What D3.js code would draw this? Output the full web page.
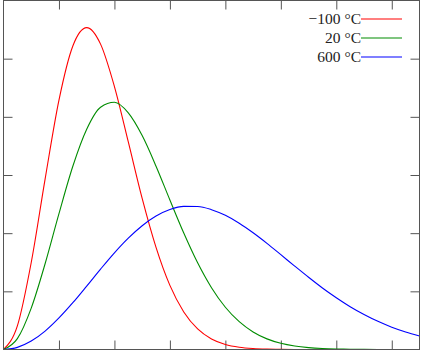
<!DOCTYPE html>
<html>
<head>
<meta charset="utf-8">
<script src="https://cdn.jsdelivr.net/npm/d3@7"></script>
<style>
  html, body { margin: 0; padding: 0; background: #fff; }
  svg { display: block; }
</style>
</head>
<body>
<svg id="chart" width="421" height="351"></svg>
<script>
// speed (m/s) sampled every 50
const speeds = d3.range(0, 1501, 50);
const labels = ["\u2212100 \u00b0C", "20 \u00b0C", "600 \u00b0C"];
const colors = ["#ff0000", "#008c00", "#0000ff"];

// probability density (s/m)
const cold = [0, 0.000203, 0.000748, 0.001465, 0.002144, 0.002609, 0.002767, 0.002625,
  0.002260, 0.001784, 0.001299, 0.000878, 0.000551, 0.000323, 0.000177, 0.0000908,
  0.0000436, 0.0000197, 0.0000084, 0.0000033, 0.0000012, 0.0000004, 0.0000001, 0, 0,
  0, 0, 0, 0, 0, 0];
const room = [0, 0.0000934, 0.000356, 0.000737, 0.001168, 0.001575, 0.001893, 0.002082,
  0.002125, 0.002034, 0.001839, 0.001576, 0.001285, 0.001001, 0.000745, 0.000531,
  0.000363, 0.000239, 0.000151, 0.0000914, 0.0000533, 0.0000300, 0.0000163, 0.0000085,
  0.0000043, 0.0000021, 0.000001, 0.0000005, 0.0000002, 0.0000001, 0];
const hot = [0, 0.0000184, 0.0000723, 0.000158, 0.000271, 0.000402, 0.000545, 0.000691,
  0.000831, 0.000957, 0.001064, 0.001147, 0.001203, 0.001230, 0.001229, 0.001202,
  0.001153, 0.001085, 0.001003, 0.000912, 0.000815, 0.000717, 0.000621, 0.000529,
  0.000445, 0.000368, 0.000301, 0.000242, 0.000192, 0.000151, 0.000116];

const series = [cold, room, hot];

const svg = d3.select("#chart");
const mLeft = 3.5, mRight = 419.5, mTop = 0.5, mBottom = 349.5;

const x = d3.scaleLinear().domain([0, 1500]).range([mLeft, mRight]);
const y = d3.scaleLinear().domain([0, 0.003]).range([mBottom, mTop]);

const axisColor = "#555";

// inward ticks on all four sides
const tickLen = 9;
const xt = d3.range(200, 1500, 200);
const yt = d3.range(0.0005, 0.003, 0.0005);

svg.append("g").attr("transform", `translate(0,${mBottom})`)
  .call(d3.axisTop(x).tickValues(xt).tickSize(tickLen).tickFormat(""));
svg.append("g").attr("transform", `translate(0,${mTop})`)
  .call(d3.axisBottom(x).tickValues(xt).tickSize(tickLen).tickFormat(""));
svg.append("g").attr("transform", `translate(${mLeft},0)`)
  .call(d3.axisRight(y).tickValues(yt).tickSize(tickLen).tickFormat(""));
svg.append("g").attr("transform", `translate(${mRight},0)`)
  .call(d3.axisLeft(y).tickValues(yt).tickSize(tickLen).tickFormat(""));

svg.selectAll(".domain").remove();
svg.selectAll(".tick line").attr("stroke", axisColor);

const line = d3.line()
  .x((d, i) => x(speeds[i]))
  .y(d => y(d))
  .curve(d3.curveMonotoneX);

svg.append("g")
  .selectAll("path")
  .data(series)
  .join("path")
  .attr("fill", "none")
  .attr("stroke", (d, i) => colors[i])
  .attr("stroke-width", 1.1)
  .attr("d", line);

// frame
svg.append("rect")
  .attr("x", mLeft).attr("y", mTop)
  .attr("width", mRight - mLeft).attr("height", mBottom - mTop)
  .attr("fill", "none")
  .attr("stroke", axisColor)
  .attr("stroke-width", 1);

// legend
const legend = svg.append("g").attr("font-family", "'Liberation Serif', 'DejaVu Serif', serif")
  .attr("font-size", 15.5).attr("fill", "#222");
labels.forEach((t, i) => {
  const ly = 19 + i * 19;
  legend.append("text")
    .attr("x", 361).attr("y", ly + 5)
    .attr("text-anchor", "end")
    .text(t);
  legend.append("line")
    .attr("x1", 361).attr("x2", 402)
    .attr("y1", ly).attr("y2", ly)
    .attr("stroke", colors[i])
    .attr("stroke-width", 1.1);
});
</script>
</body>
</html>
